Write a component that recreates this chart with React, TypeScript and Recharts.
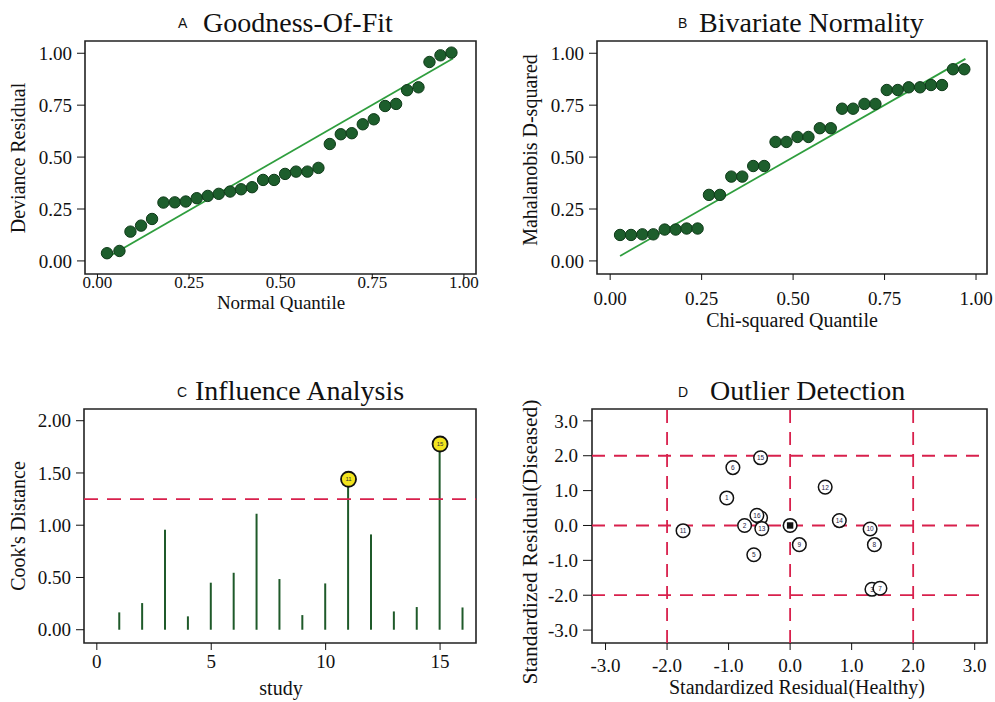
import React from 'react';
import {
  ScatterChart,
  ComposedChart,
  Scatter,
  Bar,
  XAxis,
  YAxis,
  ReferenceLine,
  ReferenceArea,
} from 'recharts';

// ---------- Panel A: Goodness-Of-Fit ----------
const normalQuantile = [0.026, 0.060, 0.090, 0.119, 0.149, 0.180, 0.211, 0.241, 0.271, 0.301, 0.331, 0.362, 0.392, 0.422, 0.452, 0.482, 0.512, 0.542, 0.573, 0.603, 0.634, 0.664, 0.694, 0.724, 0.754, 0.785, 0.815, 0.845, 0.876, 0.906, 0.936, 0.966];
const devianceResidual = [0.037, 0.048, 0.141, 0.170, 0.202, 0.281, 0.282, 0.286, 0.302, 0.313, 0.323, 0.334, 0.345, 0.355, 0.390, 0.390, 0.419, 0.430, 0.430, 0.448, 0.563, 0.610, 0.615, 0.658, 0.682, 0.746, 0.756, 0.822, 0.836, 0.958, 0.990, 1.003];
const gofFitX = [0.03, 0.97];
const gofFitY = [0.02, 0.975];

// ---------- Panel B: Bivariate Normality ----------
const chiQuantile = [0.027, 0.057, 0.088, 0.118, 0.149, 0.179, 0.209, 0.239, 0.270, 0.300, 0.331, 0.361, 0.391, 0.421, 0.452, 0.482, 0.512, 0.542, 0.573, 0.603, 0.634, 0.664, 0.695, 0.725, 0.756, 0.786, 0.816, 0.847, 0.877, 0.907, 0.937, 0.968];
const mahalanobisD2 = [0.125, 0.125, 0.128, 0.128, 0.151, 0.151, 0.156, 0.156, 0.318, 0.318, 0.406, 0.406, 0.457, 0.457, 0.573, 0.573, 0.597, 0.597, 0.639, 0.639, 0.733, 0.733, 0.756, 0.756, 0.823, 0.823, 0.836, 0.836, 0.847, 0.847, 0.923, 0.923];
const bivFitX = [0.027, 0.971];
const bivFitY = [0.024, 0.973];

const unitTicks = [0, 0.25, 0.5, 0.75, 1];

// ---------- Panel C: Influence Analysis ----------
const studies = [1, 2, 3, 4, 5, 6, 7, 8, 9, 10, 11, 12, 13, 14, 15, 16];
const cooksDistance = [0.166, 0.255, 0.957, 0.128, 0.45, 0.545, 1.11, 0.485, 0.14, 0.443, 1.44, 0.912, 0.175, 0.217, 1.777, 0.213];
const influentialStudies = [11, 15];
const cooksThreshold = 1.25;
const studyTicks = [0, 5, 10, 15];
const cookTicks = [0, 0.5, 1, 1.5, 2];

// ---------- Panel D: Outlier Detection ----------
const outlierLabels = ['4', '16', '2', '13', '11', '1', '6', '15', '12', '14', '10', '9', '8', '5', '3', '7'];
const residualHealthy = [-0.48, -0.54, -0.74, -0.46, -1.74, -1.03, -0.93, -0.48, 0.57, 0.80, 1.30, 0.15, 1.37, -0.59, 1.33, 1.46];
const residualDiseased = [0.22, 0.29, 0.00, -0.09, -0.15, 0.79, 1.66, 1.94, 1.10, 0.14, -0.10, -0.55, -0.55, -0.84, -1.83, -1.80];
const summaryPoint = [{ x: 0, y: 0 }];
const residualCutoffs = [-2, 0, 2];
const residualTicks = [-3, -2, -1, 0, 1, 2, 3];

// ---------- styles ----------
const SERIF = '"Liberation Serif", "Times New Roman", serif';
const SANS = '"Liberation Sans", Arial, sans-serif';
const INK = '#111111';
const DOT_FILL = '#1d5e2c';
const DOT_STROKE = '#0e3a18';
const FIT_LINE = '#2f9e3e';
const STEM = '#1f5a2a';
const DASH_RED = '#d8204c';

const gofData = normalQuantile.map((x, i) => ({ x, y: devianceResidual[i] }));
const bivData = chiQuantile.map((x, i) => ({ x, y: mahalanobisD2[i] }));
const cookData = studies.map((s, i) => ({ study: s, cook: cooksDistance[i] }));
const cookHighlight = cookData.filter((d) => influentialStudies.includes(d.study));
const outlierData = outlierLabels.map((label, i) => ({ x: residualHealthy[i], y: residualDiseased[i], label }));

const f2 = (v: number) => v.toFixed(2);
const f1 = (v: number) => v.toFixed(1);

const tickStyle = { fill: INK, fontSize: 19, fontFamily: SERIF };
const tickStyleSmall = { fill: INK, fontSize: 17, fontFamily: SERIF };

const GreenDot = (p: any) => (
  <circle cx={p.cx} cy={p.cy} r={5.7} fill={DOT_FILL} stroke={DOT_STROKE} strokeWidth={1} />
);

const YellowMarker = (p: any) => (
  <g>
    <circle cx={p.cx} cy={p.cy} r={7.5} fill="#f2e41e" stroke="#111" strokeWidth={1.8} />
    <text x={p.cx} y={p.cy} textAnchor="middle" dominantBaseline="central" fontSize={6} fontFamily={SANS} fill="#333">
      {p.payload.study}
    </text>
  </g>
);

const OutlierMarker = (p: any) => (
  <g>
    <circle cx={p.cx} cy={p.cy} r={6.8} fill="#ffffff" stroke="#111" strokeWidth={1.5} />
    <text x={p.cx} y={p.cy} textAnchor="middle" dominantBaseline="central" fontSize={6.5} fontFamily={SANS} fill="#222244">
      {p.payload.label}
    </text>
  </g>
);

const SummaryMarker = (p: any) => (
  <g>
    <circle cx={p.cx} cy={p.cy} r={6.8} fill="#ffffff" stroke="#111" strokeWidth={1.6} />
    <rect x={p.cx - 3.2} y={p.cy - 3.2} width={6.4} height={6.4} fill="#111" />
  </g>
);

export default function App() {
  const aX = [-0.034, 1.033];
  const aY = [-0.063, 1.059];
  const bX = [-0.036, 1.03];
  const cX = [-0.56, 16.57];
  const cY = [-0.127, 2.112];
  const dX = [-3.22, 3.2];
  const dY = [-3.37, 3.34];

  return (
    <div style={{ position: 'absolute', left: 0, top: 0, width: 995, height: 702, background: '#fff', overflow: 'hidden' }}>
      {/* Panel A */}
      <div style={{ position: 'absolute', left: 0, top: 0 }}>
        <ScatterChart width={497} height={340} margin={{ top: 41, right: 21, bottom: 16, left: 0 }}>
          <XAxis type="number" dataKey="x" domain={aX} ticks={unitTicks} tickFormatter={f2} allowDataOverflow interval={0}
            axisLine={false} tickLine={{ stroke: INK }} tickSize={5} tickMargin={-3} height={50} tick={tickStyleSmall} />
          <YAxis type="number" dataKey="y" domain={aY} ticks={unitTicks} tickFormatter={f2} allowDataOverflow interval={0}
            axisLine={false} tickLine={{ stroke: INK }} tickSize={8} tickMargin={5} width={85} tick={tickStyle} />
          <ReferenceLine segment={[{ x: gofFitX[0], y: gofFitY[0] }, { x: gofFitX[1], y: gofFitY[1] }]} stroke={FIT_LINE} strokeWidth={1.8} ifOverflow="visible" />
          <Scatter data={gofData} shape={GreenDot} isAnimationActive={false} />
          <ReferenceArea x1={aX[0]} x2={aX[1]} y1={aY[0]} y2={aY[1]} fill="none" fillOpacity={0} stroke="#222" strokeWidth={1.6} ifOverflow="visible" />
        </ScatterChart>
      </div>

      {/* Panel B */}
      <div style={{ position: 'absolute', left: 497, top: 0 }}>
        <ScatterChart width={498} height={340} margin={{ top: 41, right: 8, bottom: 16, left: 0 }}>
          <XAxis type="number" dataKey="x" domain={bX} ticks={unitTicks} tickFormatter={f2} allowDataOverflow interval={0}
            axisLine={false} tickLine={{ stroke: INK }} tickSize={6} tickMargin={12} height={50} tick={tickStyle} />
          <YAxis type="number" dataKey="y" domain={aY} ticks={unitTicks} tickFormatter={f2} allowDataOverflow interval={0}
            axisLine={false} tickLine={{ stroke: INK }} tickSize={8} tickMargin={5} width={100} tick={tickStyle} />
          <ReferenceLine segment={[{ x: bivFitX[0], y: bivFitY[0] }, { x: bivFitX[1], y: bivFitY[1] }]} stroke={FIT_LINE} strokeWidth={1.8} ifOverflow="visible" />
          <Scatter data={bivData} shape={GreenDot} isAnimationActive={false} />
          <ReferenceArea x1={bX[0]} x2={bX[1]} y1={aY[0]} y2={aY[1]} fill="none" fillOpacity={0} stroke="#222" strokeWidth={1.6} ifOverflow="visible" />
        </ScatterChart>
      </div>

      {/* Panel C */}
      <div style={{ position: 'absolute', left: 0, top: 340 }}>
        <ComposedChart width={497} height={362} data={cookData} margin={{ top: 69, right: 21, bottom: 4, left: 0 }}>
          <XAxis type="number" dataKey="study" domain={cX} ticks={studyTicks} allowDataOverflow interval={0}
            axisLine={false} tickLine={{ stroke: INK }} tickSize={7} tickMargin={5} height={55} tick={tickStyle} />
          <YAxis type="number" domain={cY} ticks={cookTicks} tickFormatter={f2} allowDataOverflow interval={0}
            axisLine={false} tickLine={{ stroke: INK }} tickSize={8} tickMargin={5} width={84} tick={tickStyle} />
          <Bar dataKey="cook" barSize={2} fill={STEM} isAnimationActive={false} />
          <ReferenceLine y={cooksThreshold} stroke={DASH_RED} strokeWidth={1.8} strokeDasharray="14 9" />
          <Scatter data={cookHighlight} dataKey="cook" shape={YellowMarker} isAnimationActive={false} />
          <ReferenceArea x1={cX[0]} x2={cX[1]} y1={cY[0]} y2={cY[1]} fill="none" fillOpacity={0} stroke="#222" strokeWidth={1.6} ifOverflow="visible" />
        </ComposedChart>
      </div>

      {/* Panel D */}
      <div style={{ position: 'absolute', left: 497, top: 340 }}>
        <ScatterChart width={498} height={362} margin={{ top: 69, right: 8, bottom: 4, left: 0 }}>
          <XAxis type="number" dataKey="x" domain={dX} ticks={residualTicks} tickFormatter={f1} allowDataOverflow interval={0}
            axisLine={false} tickLine={{ stroke: INK }} tickSize={7} tickMargin={9} height={55} tick={tickStyle} />
          <YAxis type="number" dataKey="y" domain={dY} ticks={residualTicks} tickFormatter={f1} allowDataOverflow interval={0}
            axisLine={false} tickLine={{ stroke: INK }} tickSize={9} tickMargin={5} width={95} tick={tickStyle} />
          {residualCutoffs.map((v) => (
            <ReferenceLine key={'vx' + v} x={v} stroke={DASH_RED} strokeWidth={1.8} strokeDasharray="13 9" />
          ))}
          {residualCutoffs.map((v) => (
            <ReferenceLine key={'hy' + v} y={v} stroke={DASH_RED} strokeWidth={1.8} strokeDasharray="13 9" />
          ))}
          <Scatter data={outlierData} shape={OutlierMarker} isAnimationActive={false} />
          <Scatter data={summaryPoint} shape={SummaryMarker} isAnimationActive={false} />
          <ReferenceArea x1={dX[0]} x2={dX[1]} y1={dY[0]} y2={dY[1]} fill="none" fillOpacity={0} stroke="#222" strokeWidth={1.6} ifOverflow="visible" />
        </ScatterChart>
      </div>

      {/* Titles and axis titles */}
      <svg width={995} height={702} style={{ position: 'absolute', left: 0, top: 0, pointerEvents: 'none' }}>
        <g fill={INK}>
          <text x={178} y={28} fontFamily={SANS} fontSize={14}>A</text>
          <text x={203} y={32} fontFamily={SERIF} fontSize={28}>Goodness-Of-Fit</text>
          <text x={678} y={28} fontFamily={SANS} fontSize={14}>B</text>
          <text x={699} y={32} fontFamily={SERIF} fontSize={28}>Bivariate Normality</text>
          <text x={177} y={397} fontFamily={SANS} fontSize={14}>C</text>
          <text x={195} y={400} fontFamily={SERIF} fontSize={28}>Influence Analysis</text>
          <text x={678} y={397} fontFamily={SANS} fontSize={14}>D</text>
          <text x={710} y={400} fontFamily={SERIF} fontSize={28}>Outlier Detection</text>

          <text x={281} y={309} fontFamily={SERIF} fontSize={19} textAnchor="middle">Normal Quantile</text>
          <text x={792} y={327} fontFamily={SERIF} fontSize={20} textAnchor="middle">Chi-squared Quantile</text>
          <text x={281} y={695} fontFamily={SERIF} fontSize={20} textAnchor="middle">study</text>
          <text x={797} y={694} fontFamily={SERIF} fontSize={20} textAnchor="middle">Standardized Residual(Healthy)</text>

          <text transform="translate(25,158) rotate(-90)" fontFamily={SERIF} fontSize={20} textAnchor="middle">Deviance Residual</text>
          <text transform="translate(537,150) rotate(-90)" fontFamily={SERIF} fontSize={20} textAnchor="middle">Mahalanobis D-squared</text>
          <text transform="translate(25,526) rotate(-90)" fontFamily={SERIF} fontSize={20} textAnchor="middle">Cook's Distance</text>
          <text transform="translate(537,542) rotate(-90)" fontFamily={SERIF} fontSize={21.5} textAnchor="middle">Standardized Residual(Diseased)</text>
        </g>
      </svg>
    </div>
  );
}
